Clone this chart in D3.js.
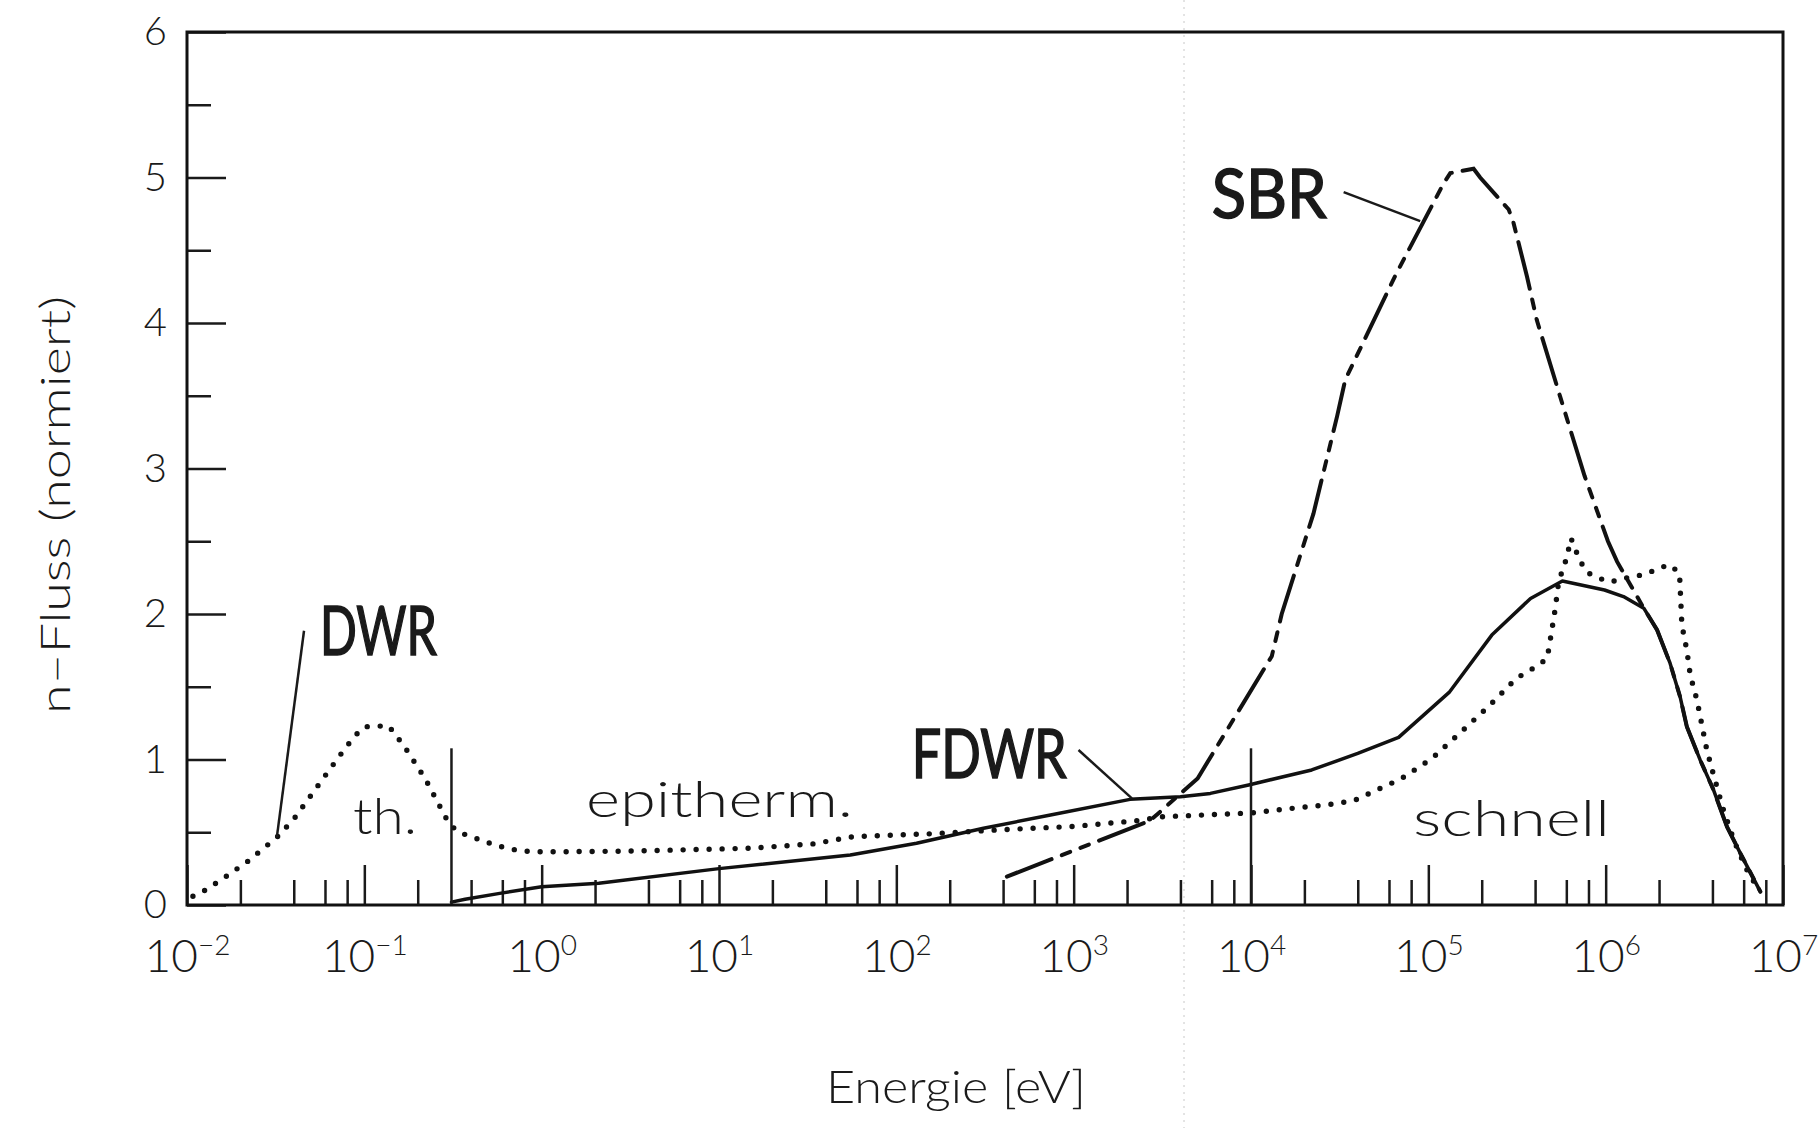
<!DOCTYPE html>
<html>
<head>
<meta charset="utf-8">
<script src="https://cdnjs.cloudflare.com/ajax/libs/d3/7.8.5/d3.min.js"></script>
<style>
body { margin: 0; background: #fff; }
svg { display: block; }
text { font-family: Lato, "DejaVu Sans", sans-serif; fill: #1a1a1a; }
</style>
</head>
<body>
<svg id="chart" width="1820" height="1128"></svg>
<script>
// values: [energy in eV, normalised flux]
var dwrData = [[0.0108, 0.06], [0.0126, 0.10], [0.0168, 0.20], [0.022, 0.30], [0.0321, 0.465], [0.040, 0.59],
	[0.054, 0.81], [0.072, 1.02], [0.088, 1.16], [0.100, 1.225], [0.137, 1.232], [0.168, 1.09], [0.22, 0.87],
	[0.277, 0.64], [0.30, 0.56], [0.34, 0.50], [0.39, 0.475], [0.55, 0.41], [0.75, 0.372], [1.0, 0.365],
	[3.0, 0.37], [15, 0.39], [34, 0.42], [57, 0.47], [160, 0.49], [430, 0.52], [1000, 0.54], [2300, 0.58],
	[3200, 0.607], [4400, 0.614], [7300, 0.625], [1.03e4, 0.634], [1.7e4, 0.664], [2.75e4, 0.69], [3.8e4, 0.717],
	[5.1e4, 0.79], [7.0e4, 0.866], [1.05e5, 1.008], [1.5e5, 1.18], [2.18e5, 1.363], [3.13e5, 1.557], [4.13e5, 1.645],
	[4.68e5, 1.695], [4.92e5, 1.855], [5.2e5, 2.04], [5.43e5, 2.222], [6.0e5, 2.378], [6.38e5, 2.52], [6.82e5, 2.43],
	[7.3e5, 2.35], [7.83e5, 2.286], [9.2e5, 2.245], [1.07e6, 2.22], [1.26e6, 2.245], [1.5e6, 2.26], [1.77e6, 2.286],
	[2.03e6, 2.32], [2.33e6, 2.337], [2.61e6, 2.275], [2.65e6, 2.1], [2.69e6, 1.924], [2.87e6, 1.75], [3.0e6, 1.58],
	[3.27e6, 1.41], [3.49e6, 1.237], [3.72e6, 1.065], [4.06e6, 0.893], [4.6e6, 0.66], [5.3e6, 0.44], [6.2e6, 0.25],
	[7.4e6, 0.09]];

var fdwrData = [[0.31, 0.02], [0.37, 0.04], [0.58, 0.08], [1.0, 0.125], [2.1, 0.15], [10, 0.25], [55, 0.344],
	[130, 0.424], [310, 0.527], [740, 0.619], [2080, 0.726], [4000, 0.744], [5900, 0.767], [9700, 0.825],
	[2.2e4, 0.928], [4.0e4, 1.042], [6.8e4, 1.152], [1.31e5, 1.461], [2.28e5, 1.855], [3.77e5, 2.107],
	[5.7e5, 2.227], [9.85e5, 2.165], [1.26e6, 2.12], [1.64e6, 2.04], [1.95e6, 1.89], [2.31e6, 1.66],
	[2.63e6, 1.43], [2.87e6, 1.225], [3.41e6, 0.997], [4.06e6, 0.79], [4.83e6, 0.538], [5.75e6, 0.355],
	[7.45e6, 0.092]];

var sbrData = [[420, 0.195], [2700, 0.58], [5000, 0.87], [1.31e4, 1.71], [1.49e4, 2.0], [2.25e4, 2.69],
	[3.06e4, 3.36], [3.4e4, 3.61], [6.6e4, 4.34], [1.22e5, 4.96], [1.33e5, 5.03], [1.8e5, 5.06], [1.96e5, 5.0],
	[2.84e5, 4.78], [3.02e5, 4.69], [3.6e5, 4.32], [4.09e5, 4.02], [5.55e5, 3.49], [7.6e5, 2.95], [1.03e6, 2.5],
	[1.16e6, 2.36], [1.64e6, 2.04], [1.95e6, 1.89], [2.31e6, 1.66], [2.63e6, 1.43], [2.87e6, 1.225],
	[3.41e6, 0.997], [4.06e6, 0.79], [4.83e6, 0.538], [5.75e6, 0.355], [7.45e6, 0.092]];

// axis ticks
var yMajor = [0, 1, 2, 3, 4, 5, 6];
var yMinor = [0.5, 1.5, 2.5, 3.5, 4.5, 5.5];
var xExponents = [-2, -1, 0, 1, 2, 3, 4, 5, 6, 7];
var xMinorFactors = [2, 4, 6, 8];

// region borders (eV) and how high their markers go
var regionBorders = [0.31, 1e4];
var borderTop = 1.077;

// layout
var width = 1820, height = 1128;
var plot = {left: 187, right: 1783, top: 32, bottom: 905};

var svg = d3.select("#chart");

var x = d3.scaleLog().domain([1e-2, 1e7]).range([plot.left, plot.right]);
var y = d3.scaleLinear().domain([0, 6]).range([plot.bottom, plot.top]);

// faint fold mark of the scanned page
svg.append("line")
	.attr("x1", 1184).attr("x2", 1184).attr("y1", 0).attr("y2", height)
	.attr("stroke", "#c8c8c8").attr("stroke-width", 1).attr("stroke-dasharray", "2,5");

var line = d3.line().x(function(d){ return x(d[0]); }).y(function(d){ return y(d[1]); });

// y ticks, pointing into the plot
var yAxis = svg.append("g").attr("transform", "translate(" + plot.left + ",0)")
	.call(d3.axisLeft(y).tickValues(yMajor).tickSize(-39).tickPadding(20).tickFormat(d3.format("d")));
var yAxisMinor = svg.append("g").attr("transform", "translate(" + plot.left + ",0)")
	.call(d3.axisLeft(y).tickValues(yMinor).tickSize(-24).tickFormat(""));

// x ticks, pointing up
var majorVals = xExponents.map(function(e){ return Math.pow(10, e); });
var minorVals = [];
xExponents.slice(0, -1).forEach(function(e){
	xMinorFactors.forEach(function(f){ minorVals.push(f * Math.pow(10, e)); });
});
var xAxis = svg.append("g").attr("transform", "translate(0," + plot.bottom + ")")
	.call(d3.axisBottom(x).tickValues(majorVals).tickSize(-40).tickFormat(""));
var xAxisMinor = svg.append("g").attr("transform", "translate(0," + plot.bottom + ")")
	.call(d3.axisBottom(x).tickValues(minorVals).tickSize(-25).tickFormat(""));

[yAxis, yAxisMinor, xAxis, xAxisMinor].forEach(function(g){
	g.select(".domain").remove();
	g.selectAll(".tick line").attr("stroke", "#1a1a1a").attr("stroke-width", 2.5);
});
yAxis.selectAll(".tick text")
	.attr("font-family", "Lato, 'DejaVu Sans', sans-serif")
	.attr("font-size", 40).attr("font-weight", 300).attr("fill", "#1a1a1a");

// decade labels 10^n
xAxis.selectAll(".tick").each(function(d){
	var t = d3.select(this).append("text")
		.attr("y", 67).attr("text-anchor", "middle")
		.attr("font-family", "Lato, 'DejaVu Sans', sans-serif")
		.attr("font-weight", 300).attr("fill", "#1a1a1a");
	var e = Math.round(Math.log10(d));
	t.append("tspan").attr("font-size", 46).text("10");
	t.append("tspan").attr("font-size", 28).attr("dy", -17).text(e < 0 ? "\u2212" + (-e) : String(e));
});

// curves
svg.append("path").datum(fdwrData).attr("d", line)
	.attr("fill", "none").attr("stroke", "#111").attr("stroke-width", 3.5)
	.attr("stroke-linejoin", "round").attr("stroke-linecap", "round");
svg.append("path").datum(sbrData).attr("d", line)
	.attr("fill", "none").attr("stroke", "#111").attr("stroke-width", 4)
	.attr("stroke-dasharray", "48,11,9,11,9,11").attr("stroke-linecap", "round");
svg.append("path").datum(dwrData).attr("d", line)
	.attr("fill", "none").attr("stroke", "#111").attr("stroke-width", 5.4)
	.attr("stroke-dasharray", "0,13").attr("stroke-linecap", "round");

// region borders
svg.selectAll(".border").data(regionBorders).enter().append("line")
	.attr("class", "border")
	.attr("x1", function(d){ return x(d); }).attr("x2", function(d){ return x(d); })
	.attr("y1", y(0)).attr("y2", y(borderTop))
	.attr("stroke", "#1a1a1a").attr("stroke-width", 2.5);

// frame
svg.append("rect")
	.attr("x", plot.left).attr("y", plot.top)
	.attr("width", plot.right - plot.left).attr("height", plot.bottom - plot.top)
	.attr("fill", "none").attr("stroke", "#111").attr("stroke-width", 3);

// region names
var regionLabels = [
	{text: "th.", at: [0.0863, 0.488], w: 64},
	{text: "epitherm.", at: [1.778, 0.608], w: 267},
	{text: "schnell", at: [8.2e4, 0.476], w: 197}
];
svg.selectAll(".region").data(regionLabels).enter().append("text")
	.attr("class", "region")
	.attr("x", function(d){ return x(d.at[0]); }).attr("y", function(d){ return y(d.at[1]); })
	.attr("font-size", 50).attr("font-weight", 300)
	.attr("textLength", function(d){ return d.w; }).attr("lengthAdjust", "spacingAndGlyphs")
	.text(function(d){ return d.text; });

// reactor names with leader lines
var reactorLabels = [
	{text: "DWR", at: [0.0562, 1.718], w: 117, lead: [[0.0321, 0.465], [0.0457, 1.885]]},
	{text: "SBR", at: [6003, 4.722], w: 115, lead: [[3.33e4, 4.90], [9.0e4, 4.70]]},
	{text: "FDWR", at: [122.1, 0.871], w: 155, lead: [[1065, 1.065], [2130, 0.733]]}
];
svg.selectAll(".reactor").data(reactorLabels).enter().append("text")
	.attr("class", "reactor")
	.attr("x", function(d){ return x(d.at[0]); }).attr("y", function(d){ return y(d.at[1]); })
	.attr("font-size", 67).attr("font-weight", 400)
	.attr("stroke", "#1a1a1a").attr("stroke-width", 1.6)
	.attr("textLength", function(d){ return d.w; }).attr("lengthAdjust", "spacingAndGlyphs")
	.text(function(d){ return d.text; });
svg.selectAll(".leader").data(reactorLabels).enter().append("path")
	.attr("class", "leader")
	.attr("d", function(d){ return line(d.lead); })
	.attr("fill", "none").attr("stroke", "#1a1a1a").attr("stroke-width", 2.5);

// axis titles
svg.append("text")
	.attr("x", 956).attr("y", 1103).attr("text-anchor", "middle")
	.attr("font-size", 46).attr("font-weight", 300)
	.attr("textLength", 260).attr("lengthAdjust", "spacingAndGlyphs")
	.text("Energie [eV]");
svg.append("text")
	.attr("transform", "translate(70,505) rotate(-90)").attr("text-anchor", "middle")
	.attr("font-size", 42).attr("font-weight", 300)
	.attr("textLength", 418).attr("lengthAdjust", "spacingAndGlyphs")
	.text("n\u2013Fluss (normiert)");
</script>
</body>
</html>
